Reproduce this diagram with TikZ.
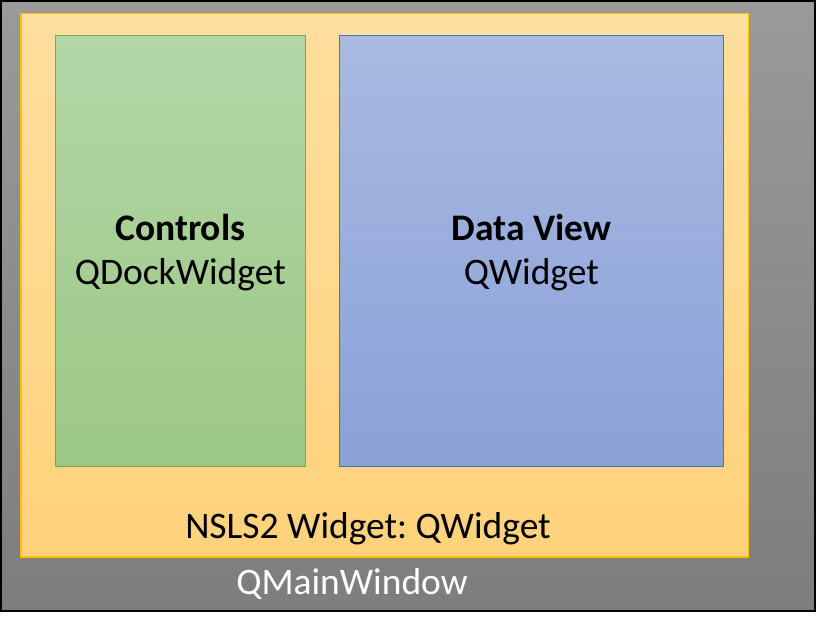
\documentclass[tikz,border=0pt]{standalone}
\usepackage{fontspec}
\setmainfont{Carlito}
\frenchspacing
\definecolor{grayTop}{HTML}{9A9A9A}
\definecolor{grayBot}{HTML}{7D7D7D}
\definecolor{yelTop}{HTML}{FFDF9F}
\definecolor{yelBot}{HTML}{FFD27B}
\definecolor{yelLine}{HTML}{FFC000}
\definecolor{grnTop}{HTML}{B3D6A7}
\definecolor{grnBot}{HTML}{9CC885}
\definecolor{grnLine}{HTML}{70AD47}
\definecolor{bluTop}{HTML}{A9B9E1}
\definecolor{bluBot}{HTML}{8AA1D8}
\definecolor{bluLine}{HTML}{4472C4}
\tikzset{
  panel/.style={rectangle, inner sep=0pt, outer sep=0pt, anchor=north west},
  lbl/.style={font=\fontsize{37.5}{44}\selectfont, align=center, inner sep=0pt},
}
\begin{document}
\begin{tikzpicture}[x=1pt,y=-1pt]
\useasboundingbox (0,0) rectangle (816,629);
\fill[white] (0,0) rectangle (816,629);
\node[panel, draw=black, line width=1.6pt, top color=grayTop, bottom color=grayBot,
  minimum width=814pt, minimum height=610pt] (main) at (0.8,0.8) {};
\node[panel, draw=yelLine, line width=1.5pt, top color=yelTop, bottom color=yelBot,
  minimum width=727.5pt, minimum height=543.5pt] (nsls) at (21.2,13.3) {};
\node[panel, draw=grnLine, line width=1.2pt, top color=grnTop, bottom color=grnBot,
  minimum width=250pt, minimum height=431pt] (ctrl) at (55.3,35.3) {};
\node[panel, draw=bluLine, line width=1.2pt, top color=bluTop, bottom color=bluBot,
  minimum width=384pt, minimum height=431pt] (data) at (339.3,35.3) {};
\node[lbl] (ctrlt) at ([yshift=-1.5pt]ctrl.center) {\textbf{Controls}\\QDockWidget};
\node[lbl] (datat) at ([yshift=-1.5pt]data.center) {\textbf{Data View}\\QWidget};
\node[lbl, anchor=base] (nslst) at (368,538.5) {NSLS2 Widget: QWidget};
\node[lbl, anchor=base, text=white] (maint) at (352,594.5) {QMainWindow};
\end{tikzpicture}
\end{document}
